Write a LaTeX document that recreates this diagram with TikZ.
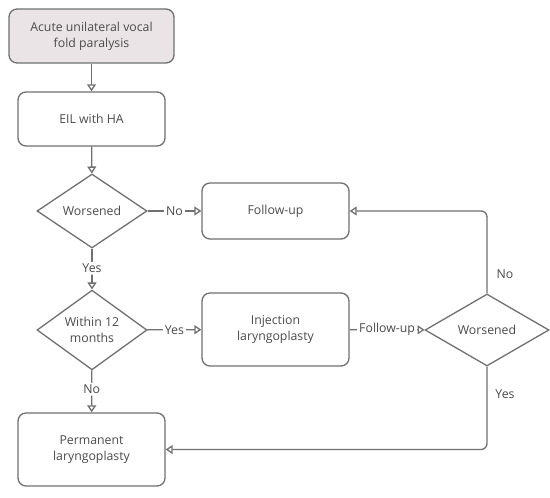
\documentclass[tikz,border=0pt]{standalone}
\usepackage{fontspec}
\setmainfont{Open Sans}
\usetikzlibrary{arrows.meta,shapes.geometric}
\definecolor{ln}{HTML}{707070}
\definecolor{tx}{HTML}{4A4A4A}
\definecolor{pk}{HTML}{EAE4E6}
\begin{document}
\begin{tikzpicture}[x=1pt,y=-1pt,
  font=\fontsize{12.3}{16}\selectfont, text=tx,
  box/.style={draw=ln,line width=1.3pt,rounded corners=8pt,minimum width=147pt,align=center,inner sep=0pt},
  dia/.style={draw=ln,line width=1.3pt,diamond,inner sep=0pt,align=center},
  conn/.style={draw=ln,line width=1.3pt,-{Triangle[open,length=7pt,width=9pt]},rounded corners=6pt},
  lbl/.style={fill=white,inner sep=2pt,text=tx}]
\useasboundingbox (0,0) rectangle (550,498);
\node[box,fill=pk,minimum width=165pt,minimum height=54pt] (start) at (91.5,36) {Acute unilateral vocal\\fold paralysis};
\node[box,minimum height=54pt] (eil) at (91.5,119) {EIL with HA};
\node[dia,minimum width=110pt,minimum height=74pt] (w1) at (92,211) {Worsened};
\node[box,minimum height=56pt] (fu) at (275.5,211) {Follow-up};
\node[dia,minimum width=110pt,minimum height=74pt] (w12) at (92,330) {Within 12\\months};
\node[box,minimum height=73pt] (inj) at (275.5,329.5) {Injection\\laryngoplasty};
\node[dia,minimum width=124pt,minimum height=72pt] (w2) at (487,330) {Worsened};
\node[box,minimum height=73pt] (perm) at (91.5,449.5) {Permanent\\laryngoplasty};
\draw[conn] (start) -- (eil);
\draw[conn] (eil) -- (w1);
\draw[conn] (w1) -- node[lbl] {No} (fu);
\draw[conn] (w1) -- node[lbl,pos=0.48] {Yes} (w12);
\draw[conn] (w12) -- node[lbl] {Yes} (inj);
\draw[conn] (w12) -- node[lbl,pos=0.45] {No} (perm);
\draw[conn] (inj) -- node[lbl] {Follow-up} (w2);
\draw[conn] (w2.north) |- (fu.east);
\draw[conn] (w2.south) |- (perm.east);
\node[text=tx] (nol) at (505,274) {No};
\node[text=tx] (yesl) at (505,394) {Yes};
\end{tikzpicture}
\end{document}
